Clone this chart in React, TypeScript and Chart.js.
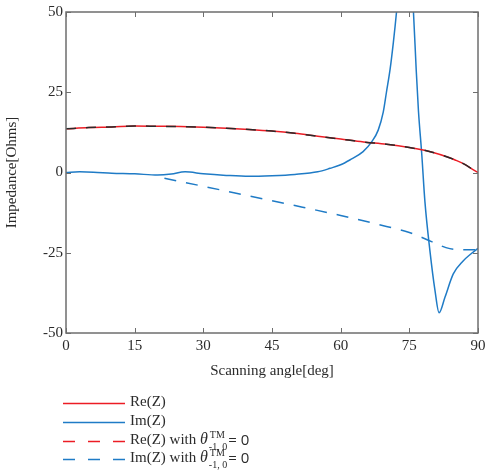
import React, { useEffect, useRef } from "react";
import { Chart, registerables } from "chart.js";

Chart.register(...registerables);

// Scan angle (deg) and impedance (Ohms) samples
const reAngles = [0, 5, 10, 15, 20, 25, 30, 35, 40, 45, 50, 55, 60, 65, 70, 75, 78, 80, 83, 85, 87, 89, 90];
const reValues = [13.6, 14.0, 14.2, 14.5, 14.4, 14.3, 14.1, 13.8, 13.4, 12.9, 12.2, 11.3, 10.4, 9.5, 8.8, 7.8, 7.0, 6.3, 5.0, 3.9, 2.6, 0.8, 0];

const imAngles = [0, 3, 6, 10, 15, 20, 23, 26, 30, 35, 40, 45, 50, 55, 57.7, 60, 62, 64.9, 66.8, 68.2, 69.3, 70, 70.8, 71.5, 72.2, 72.8, 73.5, 74.2, 74.9, 75.4, 75.9, 76.5, 77, 77.7, 78.4, 79.5, 80.6, 81.5, 82.8, 84.6, 86.8, 88.5, 90];
const imValues = [0, 0.2, 0.1, -0.2, -0.4, -0.8, -0.5, 0.2, -0.4, -0.9, -1.2, -1.0, -0.6, 0.2, 1.3, 2.4, 3.9, 6.5, 9.6, 13.2, 18.8, 25, 32.2, 40.4, 50, 60, 73, 79, 72, 60, 50, 32, 19, 6, -9, -24.4, -36.7, -43.7, -38.8, -31.6, -27.5, -25.3, -23.6];

const reZeroAngles = reAngles;
const reZeroValues = [13.6, 14.0, 14.2, 14.5, 14.4, 14.3, 14.1, 13.8, 13.4, 12.9, 12.2, 11.3, 10.4, 9.5, 8.8, 7.8, 7.0, 6.3, 5.0, 3.9, 2.6, 0.8, 0];

const imZeroAngles = [21.5, 30, 40, 50, 60, 70, 75, 80, 83, 85, 88, 90];
const imZeroValues = [-1.8, -4.3, -7.3, -10.3, -13.4, -16.8, -18.7, -21.6, -23.4, -24.0, -24.1, -24.0];

const xTickStep = 15;
const yTickStep = 25;

const RED = "#ec1c24";
const BLUE = "#1f7bc6";
const SERIF = "'Liberation Serif', 'DejaVu Serif', serif";
const SANS = "'Open Sans', 'Liberation Sans', sans-serif";
const TEXT = "#2b2b2b";

const toPoints = (xs: number[], ys: number[]) => xs.map((x, i) => ({ x, y: ys[i] }));

type LegendRow = { color: string; dash: number[]; label: string; theta: boolean };
const legendRows: LegendRow[] = [
  { color: RED, dash: [], label: "Re(Z)", theta: false },
  { color: BLUE, dash: [], label: "Im(Z)", theta: false },
  { color: RED, dash: [12, 13], label: "Re(Z) with ", theta: true },
  { color: BLUE, dash: [12, 13], label: "Im(Z) with ", theta: true },
];

// Box around the plot with inward tick marks on all four sides
const boxPlugin = {
  id: "boxTicks",
  afterDatasetsDraw(chart: any) {
    const { ctx, chartArea, scales } = chart;
    const { left, right, top, bottom } = chartArea;
    const xs = scales.x;
    const ys = scales.y;
    const len = 5;
    ctx.save();
    ctx.strokeStyle = "#6e6e6e";
    ctx.lineWidth = 1.5;
    ctx.strokeRect(left, top, right - left, bottom - top);
    ctx.lineWidth = 1;
    ctx.beginPath();
    xs.ticks.forEach((t: any) => {
      const px = Math.round(xs.getPixelForValue(t.value)) + 0.5;
      ctx.moveTo(px, bottom);
      ctx.lineTo(px, bottom - len);
      ctx.moveTo(px, top);
      ctx.lineTo(px, top + len);
    });
    ys.ticks.forEach((t: any) => {
      const py = Math.round(ys.getPixelForValue(t.value)) + 0.5;
      ctx.moveTo(left, py);
      ctx.lineTo(left + len, py);
      ctx.moveTo(right, py);
      ctx.lineTo(right - len, py);
    });
    ctx.stroke();
    ctx.restore();
  },
};

// Legend below the axis title, with the θ^TM_{-1,0} annotation
const legendPlugin = {
  id: "thetaLegend",
  afterDraw(chart: any) {
    const { ctx } = chart;
    const rowY = [402, 421, 440, 458];
    const x0 = 63;
    const x1 = 125;
    const tx = 130;
    ctx.save();
    legendRows.forEach((row, i) => {
      const y = rowY[i];
      ctx.strokeStyle = row.color;
      ctx.lineWidth = 1.5;
      ctx.setLineDash(row.dash);
      ctx.beginPath();
      ctx.moveTo(x0, y + 1.5);
      ctx.lineTo(x1, y + 1.5);
      ctx.stroke();
      ctx.setLineDash([]);

      ctx.fillStyle = TEXT;
      ctx.textBaseline = "middle";
      ctx.textAlign = "left";
      ctx.font = `15px ${SERIF}`;
      ctx.fillText(row.label, tx, y);
      if (!row.theta) return;
      let cx = tx + ctx.measureText(row.label).width;
      ctx.font = `italic 16px ${SERIF}`;
      ctx.fillText("θ", cx, y);
      cx += ctx.measureText("θ").width + 1;
      ctx.font = `10px ${SERIF}`;
      ctx.fillText("TM", cx + 1, y - 5);
      ctx.fillText("-1, 0", cx, y + 7);
      cx += Math.max(ctx.measureText("TM").width + 1, ctx.measureText("-1, 0").width) + 1;
      ctx.font = `15px ${SANS}`;
      ctx.fillText("= 0", cx, y + 1);
    });
    ctx.restore();
  },
};

export default function App() {
  const canvasRef = useRef<HTMLCanvasElement | null>(null);

  useEffect(() => {
    if (!canvasRef.current) return;
    const tickFont = { family: SERIF, size: 15 };
    const chart = new Chart(canvasRef.current, {
      type: "line",
      data: {
        datasets: [
          {
            label: "Re(Z) with θ=0",
            data: toPoints(reZeroAngles, reZeroValues),
            borderColor: "#2a2a2a",
            borderDash: [10, 10],
            borderWidth: 1.5,
            cubicInterpolationMode: "monotone",
          },
          {
            label: "Re(Z)",
            data: toPoints(reAngles, reValues),
            borderColor: RED,
            borderWidth: 1.5,
            cubicInterpolationMode: "monotone",
          },
          {
            label: "Im(Z)",
            data: toPoints(imAngles, imValues),
            borderColor: BLUE,
            borderWidth: 1.5,
            cubicInterpolationMode: "monotone",
          },
          {
            label: "Im(Z) with θ=0",
            data: toPoints(imZeroAngles, imZeroValues),
            borderColor: BLUE,
            borderDash: [12, 10],
            borderWidth: 1.5,
            cubicInterpolationMode: "monotone",
          },
        ],
      },
      options: {
        animation: false,
        responsive: false,
        maintainAspectRatio: false,
        layout: { padding: { left: 0, right: 24, top: 9, bottom: 95 } },
        elements: { point: { radius: 0 } },
        plugins: { legend: { display: false }, tooltip: { enabled: false } },
        scales: {
          x: {
            type: "linear",
            min: 0,
            max: 90,
            afterFit: (s: any) => {
              s.height = 47;
            },
            grid: { display: false, drawTicks: false },
            border: { display: false },
            ticks: { stepSize: xTickStep, padding: 4, font: tickFont, color: TEXT, maxRotation: 0 },
            title: {
              display: true,
              text: "Scanning angle[deg]",
              font: tickFont,
              color: TEXT,
              padding: { top: 0, bottom: 0 },
            },
          },
          y: {
            type: "linear",
            min: -50,
            max: 50,
            afterFit: (s: any) => {
              s.width = 66;
            },
            grid: { display: false, drawTicks: false },
            border: { display: false },
            ticks: { stepSize: yTickStep, padding: 3, font: tickFont, color: TEXT },
            title: {
              display: true,
              text: "Impedance[Ohms]",
              font: tickFont,
              color: TEXT,
              padding: { top: 3, bottom: 0 },
            },
          },
        },
      },
      plugins: [boxPlugin, legendPlugin],
    } as any);
    return () => chart.destroy();
  }, []);

  return (
    <div style={{ position: "absolute", left: 0, top: 0, width: 502, height: 475, background: "#fff" }}>
      <canvas ref={canvasRef} width={502} height={475} />
    </div>
  );
}
